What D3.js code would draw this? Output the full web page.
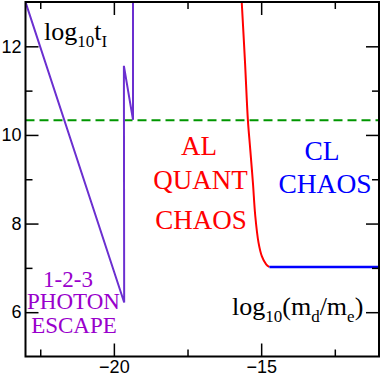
<!DOCTYPE html>
<html>
<head>
<meta charset="utf-8">
<script src="https://cdn.jsdelivr.net/npm/d3@7"></script>
<style>
  body { margin: 0; background: #fff; }
  svg { display: block; }
</style>
</head>
<body>
<div id="chart"></div>
<script>
// axis ticks
var xMajor = [-20, -15];
var xMinor = [-22.5, -17.5, -12.5];
var yMajor = [6, 8, 10, 12];
var yMinor = [7, 9, 11];

// 1-2-3 photon escape branch (purple)
var photonX = [-23, -19.65, -19.66, -19.35, -19.35];
var photonY = [13, 6.22, 11.56, 10.34, 13];

// quantum chaos curve (red)
var quantX = [-15.66, -15.55, -15.45, -15.37, -15.28, -15.20, -15.09, -14.975, -14.83, -14.72];
var quantY = [13.0, 11.66, 10.33, 9.67, 8.92, 8.17, 7.57, 7.26, 7.08, 7.02];

// classical chaos (blue)
var classX = [-14.72, -11];
var classY = [7.02, 7.02];

// threshold (green dashed)
var thresholdY = 10.33;

var svgWidth = 382;
var svgHeight = 376;
var serif = "'Liberation Serif'";

var x = d3.scaleLinear().domain([-23, -11]).range([25.5, 379]);
var y = d3.scaleLinear().domain([5, 13]).range([356.5, 2]);

var svg = d3.select("#chart")
  .append("svg")
  .attr("width", svgWidth)
  .attr("height", svgHeight);

svg.append("clipPath").attr("id", "clip")
  .append("rect")
  .attr("x", x(-23)).attr("y", y(13))
  .attr("width", x(-11) - x(-23)).attr("height", y(5) - y(13));

var plot = svg.append("g").attr("clip-path", "url(#clip)");

var line = d3.line().x(d => x(d[0])).y(d => y(d[1]));

// green dashed threshold
plot.append("line")
  .attr("x1", x(-23)).attr("x2", x(-11))
  .attr("y1", y(thresholdY)).attr("y2", y(thresholdY))
  .attr("stroke", "#009600")
  .attr("stroke-width", 2)
  .attr("stroke-dasharray", "9,5");

plot.append("path")
  .datum(d3.zip(photonX, photonY))
  .attr("d", line)
  .attr("fill", "none")
  .attr("stroke", "#6b2fd0")
  .attr("stroke-width", 2);

plot.append("path")
  .datum(d3.zip(quantX, quantY))
  .attr("d", d3.line().x(d => x(d[0])).y(d => y(d[1])).curve(d3.curveCatmullRom))
  .attr("fill", "none")
  .attr("stroke", "#ff0000")
  .attr("stroke-width", 2);

plot.append("path")
  .datum(d3.zip(classX, classY))
  .attr("d", line)
  .attr("fill", "none")
  .attr("stroke", "#0000ff")
  .attr("stroke-width", 2.5);

// axes, ticks pointing inward on all four sides
function styleAxis(g) {
  g.select(".domain").remove();
  g.selectAll(".tick line").attr("stroke", "#000").attr("stroke-width", 1.5);
  g.selectAll("text")
    .attr("fill", "#000")
    .style("font-family", "'Liberation Sans'")
    .style("font-size", "18px");
}

svg.append("g")
  .attr("transform", `translate(0, ${y(5)})`)
  .call(d3.axisBottom(x).tickValues(xMajor).tickSizeInner(-13).tickSizeOuter(0).tickPadding(4).tickFormat(d3.format("d")))
  .call(styleAxis);
svg.append("g")
  .attr("transform", `translate(0, ${y(5)})`)
  .call(d3.axisBottom(x).tickValues(xMinor).tickSize(-7).tickFormat(""))
  .call(styleAxis);
svg.append("g")
  .attr("transform", `translate(0, ${y(13)})`)
  .call(d3.axisTop(x).tickValues(xMajor).tickSize(-13).tickFormat(""))
  .call(styleAxis);
svg.append("g")
  .attr("transform", `translate(0, ${y(13)})`)
  .call(d3.axisTop(x).tickValues(xMinor).tickSize(-7).tickFormat(""))
  .call(styleAxis);

svg.append("g")
  .attr("transform", `translate(${x(-23)}, 0)`)
  .call(d3.axisLeft(y).tickValues(yMajor).tickSizeInner(-13).tickSizeOuter(0).tickPadding(4).tickFormat(d3.format("d")))
  .call(styleAxis);
svg.append("g")
  .attr("transform", `translate(${x(-23)}, 0)`)
  .call(d3.axisLeft(y).tickValues(yMinor).tickSize(-7).tickFormat(""))
  .call(styleAxis);
svg.append("g")
  .attr("transform", `translate(${x(-11)}, 0)`)
  .call(d3.axisRight(y).tickValues(yMajor).tickSize(-13).tickFormat(""))
  .call(styleAxis);
svg.append("g")
  .attr("transform", `translate(${x(-11)}, 0)`)
  .call(d3.axisRight(y).tickValues(yMinor).tickSize(-7).tickFormat(""))
  .call(styleAxis);

// frame
svg.append("rect")
  .attr("x", x(-23)).attr("y", y(13))
  .attr("width", x(-11) - x(-23)).attr("height", y(5) - y(13))
  .attr("fill", "none")
  .attr("stroke", "#000")
  .attr("stroke-width", 2);

// labels
function subLabel(xPos, yPos, parts) {
  var t = svg.append("text")
    .attr("x", xPos).attr("y", yPos)
    .style("font-family", serif)
    .attr("fill", "#000");
  var shift = 0;
  parts.forEach(function(p) {
    var dy = p.sub ? 7 - shift : -shift;
    shift = p.sub ? 7 : 0;
    t.append("tspan")
      .attr("dy", dy)
      .style("font-family", serif)
      .style("font-size", p.sub ? "17px" : "26px")
      .text(p.s);
  });
}

subLabel(44, 40, [{s: "log"}, {s: "10", sub: true}, {s: "t"}, {s: "I", sub: true}]);
subLabel(232, 315, [{s: "log"}, {s: "10", sub: true}, {s: "(m"}, {s: "d", sub: true}, {s: "/m"}, {s: "e", sub: true}, {s: ")"}]);

function block(lines, color, size) {
  lines.forEach(function(l) {
    svg.append("text")
      .attr("x", l[1]).attr("y", l[2])
      .attr("text-anchor", "middle")
      .attr("fill", color)
      .style("font-family", serif)
      .style("font-size", size + "px")
      .text(l[0]);
  });
}

block([["AL", 199, 154.5], ["QUANT", 200.5, 188.5], ["CHAOS", 201, 228.5]], "#ff0000", 27);
block([["CL", 322, 160], ["CHAOS", 325, 192.5]], "#0000ff", 27.5);
block([["1-2-3", 68, 286.5], ["PHOTON", 73.5, 308.5], ["ESCAPE", 74, 333]], "#9900cc", 23);
</script>
</body>
</html>
